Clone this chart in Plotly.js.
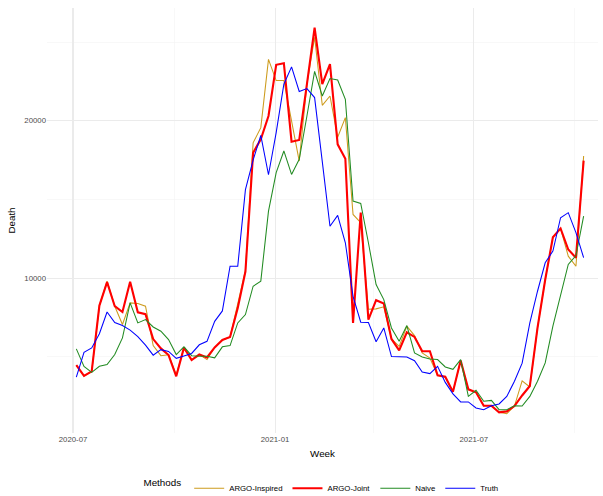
<!DOCTYPE html>
<html>
<head>
<meta charset="utf-8">
<script src="https://cdn.plot.ly/plotly-3.0.1.min.js"></script>
<style>html,body{margin:0;padding:0;background:#fff;}#chart{width:603px;height:496px;}</style>
</head>
<body>
<div id="chart"></div>
<script>
const weeks = [
"2020-07-04","2020-07-11","2020-07-18","2020-07-25","2020-08-01","2020-08-08","2020-08-15","2020-08-22","2020-08-29","2020-09-05",
"2020-09-12","2020-09-19","2020-09-26","2020-10-03","2020-10-10","2020-10-17","2020-10-24","2020-10-31","2020-11-07","2020-11-14",
"2020-11-21","2020-11-28","2020-12-05","2020-12-12","2020-12-19","2020-12-26","2021-01-02","2021-01-09","2021-01-16","2021-01-23",
"2021-01-30","2021-02-06","2021-02-13","2021-02-20","2021-02-27","2021-03-06","2021-03-13","2021-03-20","2021-03-27","2021-04-03",
"2021-04-10","2021-04-17","2021-04-24","2021-05-01","2021-05-08","2021-05-15","2021-05-22","2021-05-29","2021-06-05","2021-06-12",
"2021-06-19","2021-06-26","2021-07-03","2021-07-10","2021-07-17","2021-07-24","2021-07-31","2021-08-07","2021-08-14","2021-08-21",
"2021-08-28","2021-09-04","2021-09-11","2021-09-18","2021-09-25","2021-10-02","2021-10-09"];

const argoInspired = [
4480,3790,4080,8260,9810,8220,7060,8430,8390,8220,
5720,5080,5140,3850,5590,4830,5150,4830,5600,6080,
6260,8300,10500,18600,19560,23900,22550,22550,20000,17440,
22320,25300,20980,21570,18950,20200,14050,13520,8030,8050,
8180,6140,5670,6950,6350,5250,4930,3830,3700,2780,
4770,2940,2750,1900,1900,1480,1390,1880,3480,3090,
6840,9900,12600,13160,11400,10760,17760];

const argoJoint = [
4480,3790,4080,8260,9750,8220,7850,9780,7830,7710,
6130,5540,5120,3770,5590,4800,5150,4970,5600,6080,
6260,8100,10420,17970,18820,20300,23550,23650,18670,18780,
22320,25920,22320,23590,18500,17590,7160,14160,7370,8600,
8390,6140,5420,6560,6270,5360,5360,3830,3740,2780,
4770,2940,2750,1900,1900,1480,1540,1880,2550,3150,
6840,9900,12600,13160,11820,11300,17470];

const naive = [
5510,4400,4020,4400,4510,5150,6210,8430,7160,7370,
6900,6630,6100,5150,5640,5080,5040,5040,4940,5640,
5720,7160,7690,9490,9810,14260,16700,18080,16590,17550,
20300,23130,21570,22680,22590,21360,14900,14750,12250,9600,
8640,6840,5990,6990,5250,5000,4870,4830,4360,4210,
4830,2490,2880,2180,2240,1650,1650,1900,1880,2490,
3450,4620,6950,8850,10870,11440,13940];

const truth = [
3720,5290,5570,6470,7850,7180,6990,6700,6290,5750,
5110,5460,5350,4910,5060,5220,5770,5990,7260,7920,
10760,10760,15620,17500,19070,16570,19250,22320,23420,21860,
22040,21470,17400,13300,13990,12250,8850,7200,7180,5960,
6840,5020,5010,5000,4760,4040,3940,4400,3380,2650,
2140,2140,1760,1650,1900,2010,2490,3450,4600,7160,
9170,10980,11720,13840,14160,12890,11300];

const seriesNames = ["ARGO-Inspired","ARGO-Joint","Naive","Truth"];
const seriesColors = ["#CD9B1D","#FF0000","#228B22","#0000FF"];
const seriesWidths = [1.05,2.1,1.05,1.05];
const seriesValues = [argoInspired, argoJoint, naive, truth];

const traces = seriesNames.map((n,k)=>({
  x: weeks, y: seriesValues[k], type:"scatter", mode:"lines", name:n,
  line:{color:seriesColors[k], width:seriesWidths[k]}
}));

const font = "Liberation Sans, Arial, sans-serif";
const layout = {
  width:603, height:496,
  margin:{l:47,r:5,t:8,b:63,autoexpand:false},
  paper_bgcolor:"#fff", plot_bgcolor:"#fff",
  font:{family:font, color:"#000"},
  showlegend:true,
  xaxis:{
    type:"date", range:["2020-06-07 07:00","2021-10-22 02:00"],
    tick0:"2020-07-01", dtick:"M6", tickformat:"%Y-%m",
    showgrid:true, gridcolor:"#EBEBEB", gridwidth:1.1,
    minor:{tick0:"2020-07-01", dtick:"M3", showgrid:true, gridcolor:"#F3F3F3", gridwidth:0.6},
    zeroline:false, showline:false, ticks:"", automargin:false,
    tickfont:{size:7.8, color:"#4D4D4D", family:font},
    title:{text:"Week", font:{size:9.8, color:"#000", family:font}, standoff:7}
  },
  yaxis:{
    range:[167,27160], dtick:10000, tick0:0, tickformat:"d",
    showgrid:true, gridcolor:"#EBEBEB", gridwidth:1.1,
    minor:{dtick:5000, tick0:0, showgrid:true, gridcolor:"#F3F3F3", gridwidth:0.6},
    zeroline:false, showline:false, ticks:"", automargin:false,
    tickfont:{size:7.8, color:"#4D4D4D", family:font},
    title:{text:"Death", font:{size:9.8, color:"#000", family:font}, standoff:6}
  },
  legend:{
    orientation:"h", x:0.5, xanchor:"center", y:-0.13, yanchor:"middle",
    font:{size:7.8, color:"#000", family:font},
    title:{text:"Methods", side:"left", font:{size:9.8, color:"#000", family:font}},
    itemwidth:30, bgcolor:"rgba(0,0,0,0)"
  }
};

Plotly.newPlot("chart", traces, layout, {displayModeBar:false, staticPlot:true});
</script>
</body>
</html>
